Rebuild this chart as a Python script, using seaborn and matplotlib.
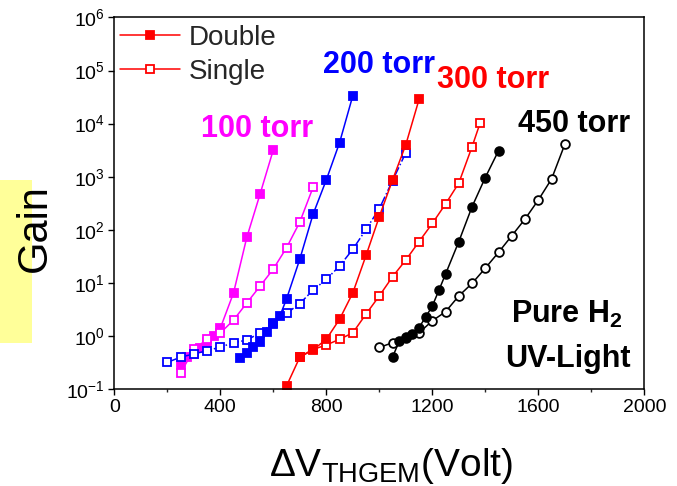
import matplotlib
matplotlib.use("Agg")
import matplotlib.pyplot as plt
import numpy as np
import pandas as pd
import seaborn as sns
from matplotlib.patches import Rectangle
from matplotlib.ticker import MultipleLocator, LogLocator, LogFormatterMathtext, NullLocator

# THGEM gain curves in pure H2 (UV light), double vs single THGEM
# 100 torr
m_double_v = [250, 275, 300, 325, 350, 375, 400, 450, 500, 550, 600]
m_double_g = [0.29, 0.41, 0.46, 0.59, 0.78, 1.0, 1.4, 6.5, 72, 470, 3200]
m_single_v = [250, 300, 350, 400, 450, 500, 550, 600, 650, 700, 750]
m_single_g = [0.20, 0.56, 0.87, 1.14, 2.0, 4.2, 8.7, 18.3, 46, 140, 630]

# 200 torr
b_double_v = [475, 500, 525, 550, 575, 600, 625, 650, 700, 750, 800, 850, 900]
b_double_g = [0.38, 0.47, 0.63, 0.76, 1.2, 1.68, 2.4, 5.0, 28, 196, 870, 4370, 33500]
b_single_v = [200, 250, 300, 350, 400, 450, 500, 550, 600, 650, 700, 750, 800,
              850, 900, 950, 1000, 1050, 1100]
b_single_g = [0.32, 0.40, 0.46, 0.53, 0.62, 0.75, 0.84, 1.15, 1.75, 2.67, 4.1, 7.3,
              11.7, 20.8, 43, 102, 250, 846, 2830]

# 300 torr
r_double_v = [650, 700, 750, 800, 850, 900, 950, 1000, 1050, 1100, 1150]
r_double_g = [0.115, 0.40, 0.55, 0.87, 2.07, 6.5, 33, 177, 870, 4000, 28600]
r_single_v = [700, 750, 800, 850, 900, 950, 1000, 1050, 1100, 1150, 1200, 1250,
              1300, 1350, 1380]
r_single_g = [0.41, 0.56, 0.68, 0.87, 1.15, 2.6, 5.7, 13.1, 27, 60, 132, 307,
              760, 3670, 10100]

# 450 torr
k_double_v = [1050, 1075, 1100, 1125, 1150, 1175, 1200, 1225, 1250, 1300, 1350, 1400, 1450]
k_double_g = [0.40, 0.80, 0.94, 1.09, 1.45, 2.28, 3.67, 7.3, 14.7, 60, 272, 967, 3090]
k_single_v = [1000, 1050, 1100, 1150, 1200, 1250, 1300, 1350, 1400, 1450, 1500,
              1550, 1600, 1650, 1700]
k_single_g = [0.61, 0.75, 0.95, 1.15, 1.94, 2.87, 5.7, 9.8, 19, 37.7, 77.5, 160,
              364, 905, 4070]

x_ticks = [0, 400, 800, 1200, 1600, 2000]

sns.set_theme(style="ticks")
plt.rcParams["font.family"] = ["Liberation Sans", "DejaVu Sans"]
plt.rcParams["mathtext.fontset"] = "custom"
plt.rcParams["mathtext.rm"] = "Liberation Sans"
plt.rcParams["mathtext.it"] = "Liberation Sans"
plt.rcParams["mathtext.bf"] = "Liberation Sans:bold"
plt.rcParams["mathtext.default"] = "regular"

fig = plt.figure(figsize=(6.77, 4.86), dpi=100)
ax = fig.add_axes([0.1688, 0.1992, 0.7829, 0.7650])

series = [
    (m_double_v, m_double_g, "#FF00FF", "s", True, "-"),
    (m_single_v, m_single_g, "#FF00FF", "s", False, "-"),
    (b_single_v, b_single_g, "#0000FF", "s", False, "-."),
    (b_double_v, b_double_g, "#0000FF", "s", True, "-"),
    (r_single_v, r_single_g, "#FF0000", "s", False, "-"),
    (r_double_v, r_double_g, "#FF0000", "s", True, "-"),
    (k_single_v, k_single_g, "black", "o", False, "-"),
    (k_double_v, k_double_g, "black", "o", True, "-"),
]

handles = {}
for v, g, col, mk, filled, ls in series:
    df = pd.DataFrame({"volt": v, "gain": g})
    sns.lineplot(data=df, x="volt", y="gain", ax=ax, estimator=None, sort=False,
                 color=col, linestyle=ls, linewidth=1.1,
                 marker=mk, markersize=5.8 if mk == "s" else 6.3,
                 markerfacecolor=col if filled else "white",
                 markeredgecolor=col, markeredgewidth=1.3)
    if col == "#FF0000":
        handles["Double" if filled else "Single"] = ax.lines[-1]

ax.set_yscale("log")
ax.set_xlim(0, 2000)
ax.set_ylim(0.1, 1e6)
ax.set_xticks(x_ticks)
ax.xaxis.set_minor_locator(MultipleLocator(200))
ax.yaxis.set_major_locator(LogLocator(base=10, numticks=10))
ax.yaxis.set_major_formatter(LogFormatterMathtext())
ax.yaxis.set_minor_locator(NullLocator())
ax.set_xlabel("")
ax.set_ylabel("")
ax.tick_params(axis="both", which="major", direction="out", length=4, width=1.0,
               labelsize=14, colors="black", pad=3)
ax.tick_params(axis="x", which="minor", direction="out", length=2.5, width=1.0)
for sp in ax.spines.values():
    sp.set_linewidth(1.1)
    sp.set_color("black")

# series labels
lab = dict(fontsize=22, fontweight="bold", ha="center", va="center")
ax.text(538, 10 ** 3.90, "100 torr", color="#FF00FF", **lab)
ax.text(999, 10 ** 5.10, "200 torr", color="#0000FF", **lab)
ax.text(1429, 10 ** 4.83, "300 torr", color="#FF0000", **lab)
ax.text(1735, 10 ** 4.00, "450 torr", color="black", **lab)
ax.text(1708, 10 ** 0.40, r"Pure H$_\mathbf{2}$", color="black", **lab)
ax.text(1710, 10 ** -0.43, "UV-Light", color="black", **lab)

ax.legend([handles["Double"], handles["Single"]], ["Double", "Single"],
          loc="upper left", bbox_to_anchor=(120 / 677, 1 - 25 / 486),
          bbox_transform=fig.transFigure, frameon=False, fontsize=20,
          handlelength=2.15, handletextpad=0.32, labelspacing=0.29,
          borderpad=0, borderaxespad=0)

# axis titles
fig.patches.append(Rectangle((0, 1 - 343 / 486), 32 / 677, 163 / 486,
                             transform=fig.transFigure, facecolor="#FFFF99",
                             edgecolor="none", zorder=0))
fig.text(34.5 / 677, 1 - 228 / 486, "Gain", rotation=90, fontsize=30,
         ha="center", va="center", color="black")
fig.text(391 / 677, 1 - 476 / 486, r"ΔV$_{THGEM}$(Volt)", fontsize=28,
         ha="center", va="baseline", color="black")

fig.savefig("out.png", dpi=100)
